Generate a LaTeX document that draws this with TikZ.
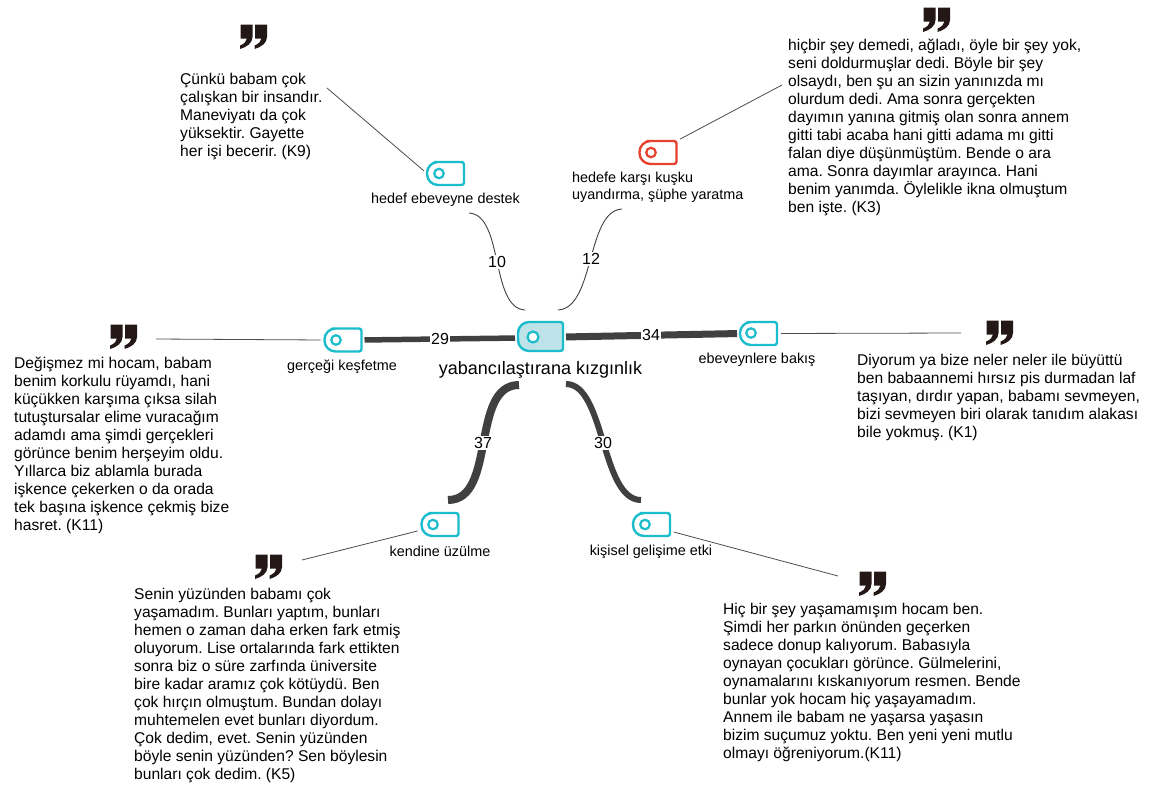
\documentclass[tikz,border=0pt]{standalone}
\usepackage{fontspec}
\setmainfont{Liberation Sans}
\usetikzlibrary{calc}
\definecolor{teal}{HTML}{1BBCCB}
\definecolor{redtag}{HTML}{E5432F}
\definecolor{edgegray}{HTML}{404040}
\definecolor{centerfill}{HTML}{BDE3E8}
\definecolor{quotecol}{HTML}{231815}
\tikzset{
  x=1pt,y=-1pt,
  tagbox/.style={minimum width=37pt,minimum height=23pt,inner sep=0pt,outer sep=0pt},
  bigtag/.style={minimum width=45pt,minimum height=29pt,inner sep=0pt,outer sep=0pt},
  tagline/.style={line width=2.4pt,line join=round},
  dotmark/.style={circle,draw=#1,line width=2.2pt,fill=white,inner sep=0pt,minimum size=9.5pt},
  edgeline/.style={draw=edgegray,line cap=butt},
  leader/.style={draw=black!70,line width=0.8pt,shorten >=4pt},
  quotebody/.style={anchor=north west,align=left,inner sep=0pt,font=\fontsize{15.6}{18}\selectfont\frenchspacing},
  taglabel/.style={inner sep=0pt,font=\fontsize{14.4}{17}\selectfont},
  weightlabel/.style={fill=white,inner sep=1.5pt,font=\fontsize{16}{16}\selectfont},
  quotemark/.pic={
    \fill[quotecol] (-13.5,-12.5) -- (-1.5,-12.5) -- (-1.5,0) .. controls (-1.5,6) and (-7,10) .. (-14,12) -- (-14,8.5) .. controls (-10,7) and (-7.5,4.5) .. (-7,1.5) -- (-13.5,1.5) -- cycle;
    \fill[quotecol] (1,-12.5) -- (13,-12.5) -- (13,0) .. controls (13,6) and (7.5,10) .. (0.5,12) -- (0.5,8.5) .. controls (4.5,7) and (7,4.5) .. (7.5,1.5) -- (1,1.5) -- cycle;
  }
}
\newcommand{\tagshape}[6]{% name, x, y, style, colour, fill
  \node[#4] (#1) at (#2,#3) {};
  \path[tagline,draw=#5,fill=#6] (#1.north) [rounded corners=2.5pt] -- (#1.north east) -- (#1.south east) -- (#1.south) [rounded corners=11pt] -- (#1.south west) -- (#1.north west) -- cycle;
}
\begin{document}
\begin{tikzpicture}
\useasboundingbox (0,0) rectangle (1150,785);
% tags
\tagshape{hedef}{445.5}{173.5}{tagbox}{teal}{white}
\node[dotmark=teal] (hedefdot) at (439,173.5) {};
\tagshape{kusku}{658}{152.5}{tagbox}{redtag}{white}
\node[dotmark=redtag] (kuskudot) at (651,152.5) {};
\tagshape{gercek}{343}{340}{tagbox}{teal}{white}
\node[dotmark=teal] (gercekdot) at (336,340) {};
\tagshape{bakis}{758.5}{333.5}{tagbox}{teal}{white}
\node[dotmark=teal] (bakisdot) at (751,333) {};
\tagshape{uzulme}{440}{524.5}{tagbox}{teal}{white}
\node[dotmark=teal] (uzulmedot) at (433,524.5) {};
\tagshape{gelisim}{651.5}{524.5}{tagbox}{teal}{white}
\node[dotmark=teal] (gelisimdot) at (645,524.5) {};
\tagshape{merkez}{540.5}{336.5}{bigtag}{teal}{centerfill}
\node[dotmark=teal,minimum size=11pt] (merkezdot) at (533,337) {};
% thick and thin connectors
\draw[edgeline,line width=5.5pt,shorten <=3pt,shorten >=3pt] (gercek.east) -- ($(merkez.west)+(0,1.5)$);
\draw[edgeline,line width=7pt,shorten <=3pt,shorten >=3pt] ($(merkez.east)+(0,0.5)$) -- (bakis.west);
\draw[edgeline,line width=8pt] ($(merkez.south)+(-21.5,34)$) .. controls ($(merkez.south)+(-70.5,34)$) and ($(uzulme.north)+(57,-13)$) .. ($(uzulme.north)+(8,-13)$);
\draw[edgeline,line width=6pt] ($(merkez.south)+(25.5,33)$) .. controls ($(merkez.south)+(64.5,33)$) and ($(gelisim.north)+(-50.5,-13)$) .. ($(gelisim.north)+(-10.5,-13)$);
\draw[edgeline,line width=0.9pt] ($(hedef.south)+(23.5,28)$) .. controls ($(hedef.south)+(58.5,30)$) and ($(merkez.north)+(-50.5,-14)$) .. ($(merkez.north)+(-15.5,-12)$);
\draw[edgeline,line width=0.9pt] ($(kusku.south)+(-36,45)$) .. controls ($(kusku.south)+(-72,47)$) and ($(merkez.north)+(54.5,-14)$) .. ($(merkez.north)+(17.5,-12)$);
% connector weights
\node[weightlabel] (w29) at (440,339) {29};
\node[weightlabel] (w34) at (651,335) {34};
\node[weightlabel] (w37) at (483,443) {37};
\node[weightlabel] (w30) at (603,443) {30};
\node[weightlabel] (w10) at (497,262) {10};
\node[weightlabel] (w12) at (591,259) {12};
% leaders
\coordinate (f1) at (327,88);
\coordinate (f2) at (782,85);
\coordinate (f3) at (156,339);
\coordinate (f4) at (961,333);
\coordinate (f5) at (302,560);
\coordinate (f6) at (838,576);
\draw[leader] (f1) -- (hedef.center -| hedef.west);
\draw[leader] (f2) -- (kusku.north east);
\draw[leader] (f3) -- (gercek.west);
\draw[leader] (f4) -- (bakis.east);
\draw[leader] (f5) -- ($(uzulme.south west)+(0,-6)$);
\draw[leader] (f6) -- ($(gelisim.south east)+(0,-5)$);
% quote marks
\pic (q1) at (254,37) {quotemark};
\pic (q2) at (937,20) {quotemark};
\pic (q3) at (124,337) {quotemark};
\pic (q4) at (1000,333) {quotemark};
\pic (q5) at (269,567) {quotemark};
\pic (q6) at (873,584) {quotemark};
% tag labels
\node[taglabel] (lhedef) at (445.5,200) {hedef ebeveyne destek};
\node[taglabel,anchor=north west,align=left] (lkusku) at (572,172) {hedefe karşı kuşku\\uyandırma, şüphe yaratma};
\node[taglabel] (lgercek) at (342,367) {gerçeği keşfetme};
\node[taglabel] (lbakis) at (757,360) {ebeveynlere bakış};
\node[taglabel] (luzulme) at (440,551) {kendine üzülme};
\node[taglabel] (lgelisim) at (651,552) {kişisel gelişime etki};
\node[inner sep=0pt,font=\fontsize{18}{20}\selectfont] (lmerkez) at (540.5,370) {yabancılaştırana kızgınlık};
% quotations
\node[quotebody] (t1) at (180,72.5) {Çünkü babam çok\\çalışkan bir insandır.\\Maneviyatı da çok\\yüksektir. Gayette\\her işi becerir. (K9)};
\node[quotebody] (t2) at (788,38.5) {hiçbir şey demedi, ağladı, öyle bir şey yok,\\seni doldurmuşlar dedi. Böyle bir şey\\olsaydı, ben şu an sizin yanınızda mı\\olurdum dedi. Ama sonra gerçekten\\dayımın yanına gitmiş olan sonra annem\\gitti tabi acaba hani gitti adama mı gitti\\falan diye düşünmüştüm. Bende o ara\\ama. Sonra dayımlar arayınca. Hani\\benim yanımda. Öylelikle ikna olmuştum\\ben işte. (K3)};
\node[quotebody] (t3) at (14,356.5) {Değişmez mi hocam, babam\\benim korkulu rüyamdı, hani\\küçükken karşıma çıksa silah\\tutuştursalar elime vuracağım\\adamdı ama şimdi gerçekleri\\görünce benim herşeyim oldu.\\Yıllarca biz ablamla burada\\işkence çekerken o da orada\\tek başına işkence çekmiş bize\\hasret. (K11)};
\node[quotebody] (t4) at (857,353.5) {Diyorum ya bize neler neler ile büyüttü\\ben babaannemi hırsız pis durmadan laf\\taşıyan, dırdır yapan, babamı sevmeyen,\\bizi sevmeyen biri olarak tanıdım alakası\\bile yokmuş. (K1)};
\node[quotebody] (t5) at (134,587.5) {Senin yüzünden babamı çok\\yaşamadım. Bunları yaptım, bunları\\hemen o zaman daha erken fark etmiş\\oluyorum. Lise ortalarında fark ettikten\\sonra biz o süre zarfında üniversite\\bire kadar aramız çok kötüydü. Ben\\çok hırçın olmuştum. Bundan dolayı\\muhtemelen evet bunları diyordum.\\Çok dedim, evet. Senin yüzünden\\böyle senin yüzünden? Sen böylesin\\bunları çok dedim. (K5)};
\node[quotebody] (t6) at (723,602.5) {Hiç bir şey yaşamamışım hocam ben.\\Şimdi her parkın önünden geçerken\\sadece donup kalıyorum. Babasıyla\\oynayan çocukları görünce. Gülmelerini,\\oynamalarını kıskanıyorum resmen. Bende\\bunlar yok hocam hiç yaşayamadım.\\Annem ile babam ne yaşarsa yaşasın\\bizim suçumuz yoktu. Ben yeni yeni mutlu\\olmayı öğreniyorum.(K11)};
\end{tikzpicture}
\end{document}
